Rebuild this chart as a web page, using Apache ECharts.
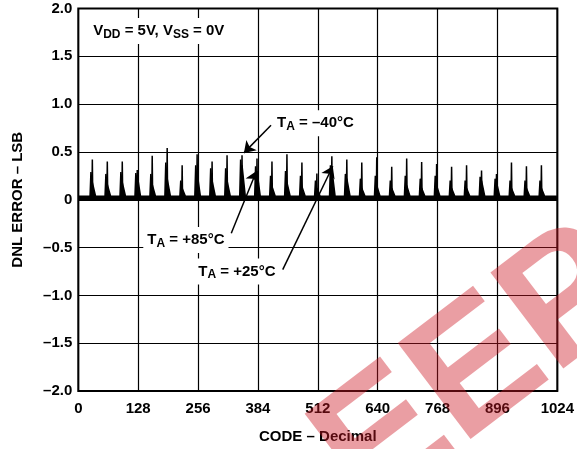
<!DOCTYPE html>
<html>
<head>
<meta charset="utf-8">
<script src="https://cdn.jsdelivr.net/npm/echarts@6/dist/echarts.min.js"></script>
<style>
html,body{margin:0;padding:0;background:#fff;}
#chart{width:577px;height:449px;}
</style>
</head>
<body>
<div id="chart"></div>
<script>
// ---- data ----
const xTicks = [0, 128, 256, 384, 512, 640, 768, 896, 1024];
const yTicks = [-2.0, -1.5, -1.0, -0.5, 0, 0.5, 1.0, 1.5, 2.0];
// codes where the DNL spikes occur (major carries)
const spikeCodes = [30, 62, 94, 126, 158, 190, 222, 254, 286, 318, 350, 382, 414, 446, 478, 510,
                    542, 574, 606, 638, 670, 702, 734, 766, 798, 830, 862, 894, 926, 958, 990];
// spike heights (LSB) per temperature
const dnlM40 = [0.42, 0.40, 0.40, 0.31, 0.46, 0.54, 0.36, 0.475, 0.40, 0.465, 0.465, 0.43, 0.40, 0.475, 0.39, 0.275,
                0.455, 0.42, 0.39, 0.445, 0.345, 0.43, 0.395, 0.375, 0.345, 0.36, 0.305, 0.27, 0.39, 0.35, 0.36];
const dnlP25 = [0.29, 0.27, 0.29, 0.28, 0.27, 0.39, 0.20, 0.36, 0.33, 0.33, 0.42, 0.35, 0.25, 0.30, 0.25, 0.20,
                0.36, 0.27, 0.22, 0.25, 0.20, 0.25, 0.22, 0.25, 0.20, 0.20, 0.24, 0.22, 0.20, 0.20, 0.20];
const dnlP85 = [0.18, 0.16, 0.18, 0.26, 0.16, 0.22, 0.12, 0.28, 0.20, 0.20, 0.36, 0.30, 0.14, 0.18, 0.14, 0.12,
                0.32, 0.22, 0.12, 0.15, 0.12, 0.15, 0.12, 0.15, 0.12, 0.12, 0.20, 0.18, 0.12, 0.12, 0.12];
// DNL level between the spikes (noise band) per temperature
const baseM40 = 0.005;
const baseP25 = 0.022;
const baseP85 = 0.036;
const codeMin = 0, codeMax = 1023;

// annotation texts and their anchor points (code, LSB)
const annoTexts = ['{n|V}{s|DD}{n| = 5V, V}{s|SS}{n| = 0V}', '{n|T}{s|A}{n| = –40°C}', '{n|T}{s|A}{n| = +85°C}', '{n|T}{s|A}{n| = +25°C}'];
const annoCodes = [172, 507, 230, 339];
const annoVals = [1.765, 0.80, -0.42, -0.75];
// arrows: start (code, LSB) -> end (code, LSB)
const arrowFrom = [[412, 0.78], [327, -0.35], [437, -0.73]];
const arrowTo = [[354, 0.49], [381, 0.30], [544, 0.35]];

// spike shape: rise from base over [c-left .. c+p0], plateau to c+p1, fall to c+right
function buildSeries(heights, base, left, p0, p1, right) {
  const d = [[codeMin, base]];
  for (let i = 0; i < spikeCodes.length; i++) {
    const c = spikeCodes[i];
    d.push([c - left, base]);
    d.push([c + p0, heights[i]]);
    if (p1 !== p0) d.push([c + p1, heights[i]]);
    d.push([c + right, base]);
  }
  d.push([codeMax, base]);
  return d;
}

const FONT = '"Liberation Sans", Arial, Helvetica, sans-serif';
const chart = echarts.init(document.getElementById('chart'), null, {renderer: 'canvas'});

const rich = {
  n: {fontFamily: FONT, fontWeight: 'bold', fontSize: 15, color: '#000', lineHeight: 18},
  s: {fontFamily: FONT, fontWeight: 'bold', fontSize: 12, color: '#000', lineHeight: 18, padding: [7, 0, 0, 0]}
};

const lineStyle = {color: '#000', width: 1.5};
const option = {
  animation: false,
  backgroundColor: '#fff',
  grid: {left: 78.3, right: 18.7, top: 8.5, bottom: 57.5, show: true, borderColor: '#000', borderWidth: 2, backgroundColor: 'transparent'},
  xAxis: {
    type: 'value', min: 0, max: 1024, interval: 128,
    name: 'CODE – Decimal', nameLocation: 'middle', nameGap: 38,
    nameTextStyle: {fontFamily: FONT, fontWeight: 'bold', fontSize: 15, color: '#000'},
    axisLine: {show: false}, axisTick: {show: false},
    axisLabel: {fontFamily: FONT, fontWeight: 'bold', fontSize: 15, color: '#000', margin: 10,
      formatter: v => xTicks.includes(v) ? String(v) : ''},
    splitLine: {show: true, lineStyle: {color: '#000', width: 1.2}}
  },
  yAxis: {
    type: 'value', min: -2, max: 2, interval: 0.5,
    name: 'DNL ERROR – LSB', nameLocation: 'middle', nameGap: 53,
    nameTextStyle: {fontFamily: FONT, fontWeight: 'bold', fontSize: 15, color: '#000'},
    axisLine: {show: false}, axisTick: {show: false},
    axisLabel: {fontFamily: FONT, fontWeight: 'bold', fontSize: 15, color: '#000', margin: 6,
      formatter: v => {
        const t = yTicks.find(k => Math.abs(k - v) < 1e-9);
        if (t === undefined) return '';
        if (t === 0) return '0';
        return (t < 0 ? '–' : '') + Math.abs(t).toFixed(1);
      }},
    splitLine: {show: true, lineStyle: {color: '#000', width: 1.2}}
  },
  series: [
    {
      name: 'TA = +85°C', type: 'line', symbol: 'none', z: 3,
      data: buildSeries(dnlP85, baseP85, 3, 0, 0, 7),
      lineStyle: lineStyle, areaStyle: {color: '#000', opacity: 1}
    },
    {
      name: 'TA = +25°C', type: 'line', symbol: 'none', z: 3,
      data: buildSeries(dnlP25, baseP25, 5, -3, 0, 2),
      lineStyle: lineStyle, areaStyle: {color: '#000', opacity: 1}
    },
    {
      name: 'TA = –40°C', type: 'line', symbol: 'none', z: 4,
      data: buildSeries(dnlM40, baseM40, 1, 0, 0, 1),
      lineStyle: lineStyle,
      markLine: {
        silent: true, animation: false,
        symbol: ['none', 'arrow'], symbolSize: 11,
        lineStyle: {color: '#000', width: 1.5, type: 'solid'},
        label: {show: false},
        data: arrowFrom.map((f, i) => [{coord: f}, {coord: arrowTo[i]}])
      },
      markPoint: {
        silent: true, animation: false,
        symbol: 'rect', symbolSize: 0,
        data: annoTexts.map((t, i) => ({
          coord: [annoCodes[i], annoVals[i]],
          label: {show: true, position: 'inside', formatter: t, rich: rich,
            backgroundColor: '#fff', padding: [4, 4, 4, 4]}
        }))
      }
    }
  ],
  graphic: [
    {
      type: 'text', x: 392, y: 548, rotation: 0.65, z: 100, silent: true,
      style: {text: 'EEPROM', font: 'bold 175px "Liberation Sans"', fill: 'rgba(205,25,35,0.42)', verticalAlign: 'bottom', align: 'left'}
    }
  ]
};
chart.setOption(option);
</script>
</body>
</html>
